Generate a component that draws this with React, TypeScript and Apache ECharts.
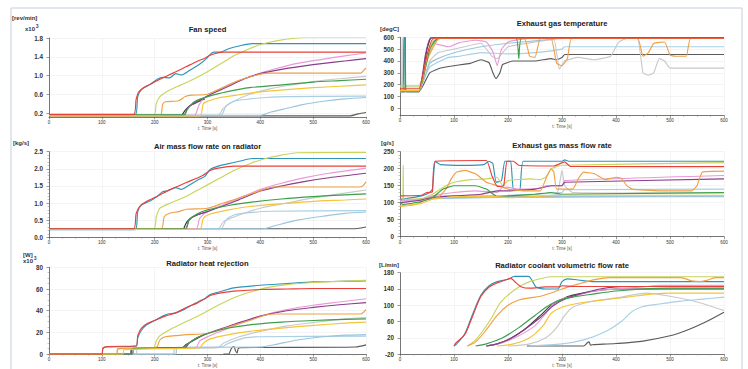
import React, { useEffect, useRef } from "react";
import * as echarts from "echarts";

// ---------- series identities (same test cases in every panel) ----------
const seriesNames = [
  "Case 1", "Case 2", "Case 3", "Case 4", "Case 5", "Case 6", "Case 7",
  "Case 8", "Case 9", "Case 10", "Case 11", "Case 12", "Case 13",
];
const seriesColors = [
  "#2f95b8", "#e8403a", "#c9d45a", "#e89ad8", "#8a3d8a", "#f0a045", "#3a9e4a",
  "#f2c53a", "#c9c9c9", "#a8cfe6", "#9cc5dc", "#5a5a5a", "#3a3a3a",
];
// drawing order weight per series (higher = on top)
const seriesZ = [3, 4, 3, 3, 3, 3, 3, 3, 2, 2, 2, 1, 1];

// ---------- tick labels ----------
const timeTicks = [0, 100, 200, 300, 400, 500, 600];
const fanTicks = [0.2, 0.6, 1.0, 1.4, 1.8];
const tempTicks = [0, 100, 200, 300, 400, 500, 600];
const coolantTicks = [-20, 20, 60, 100, 140, 180];

// ---------- Fan speed [x10^3 rev/min] ----------
const fanSpeed = [
  [[0,0.16],[163,0.16],[168,0.55],[175,0.7],[190,0.8],[205,0.92],[215,0.96],[228,0.95],[240,1.04],[250,1.01],[265,1.1],[285,1.24],[298,1.36],[305,1.45],[312,1.5],[325,1.5],[340,1.57],[360,1.63],[385,1.68],[600,1.68]],
  [[0,0.17],[160,0.17],[165,0.5],[170,0.65],[180,0.75],[195,0.83],[210,0.92],[225,1.0],[240,1.08],[260,1.19],[280,1.3],[295,1.37],[305,1.43],[315,1.47],[330,1.5],[600,1.5]],
  [[0,0.15],[198,0.15],[203,0.4],[210,0.55],[225,0.67],[250,0.8],[275,0.93],[300,1.08],[325,1.25],[350,1.42],[375,1.55],[400,1.66],[430,1.74],[460,1.79],[490,1.81],[600,1.81]],
  [[0,0.15],[275,0.15],[283,0.35],[292,0.5],[310,0.62],[340,0.8],[370,0.93],[400,1.05],[430,1.15],[470,1.26],[520,1.35],[560,1.42],[600,1.48]],
  [[0,0.15],[255,0.15],[262,0.3],[270,0.38],[290,0.5],[310,0.62],[340,0.77],[370,0.93],[400,1.04],[440,1.13],[480,1.2],[520,1.26],[560,1.31],[600,1.36]],
  [[0,0.15],[210,0.15],[215,0.38],[220,0.44],[245,0.46],[258,0.55],[270,0.58],[300,0.6],[330,0.75],[360,0.9],[390,1.0],[415,1.05],[590,1.05],[595,1.1],[600,1.16]],
  [[0,0.16],[255,0.16],[262,0.28],[275,0.44],[300,0.55],[340,0.66],[380,0.74],[440,0.8],[500,0.86],[550,0.89],[600,0.92]],
  [[0,0.14],[285,0.14],[292,0.4],[300,0.45],[320,0.52],[360,0.59],[400,0.65],[450,0.7],[500,0.74],[550,0.77],[600,0.8]],
  [[0,0.15],[320,0.15],[330,0.3],[350,0.45],[380,0.6],[420,0.72],[460,0.8],[500,0.87],[550,0.93],[600,0.98]],
  [[0,0.15],[325,0.15],[335,0.35],[350,0.45],[380,0.5],[410,0.53],[450,0.55],[600,0.56]],
  [[0,0.15],[400,0.15],[420,0.22],[450,0.3],[480,0.38],[520,0.45],[560,0.5],[600,0.53]],
  [[0,0.14],[570,0.14],[585,0.18],[600,0.21]],
  [[252,0.16],[258,0.26],[266,0.35],[280,0.43],[295,0.5]],
];

// ---------- Exhaust gas temperature [degC] ----------
const exhaustTemp = [
  [[0,145],[6,145],[7,600],[9,600],[10,145],[35,145],[48,380],[60,550],[70,590],[600,590]],
  [[0,165],[35,165],[50,450],[62,592],[600,592]],
  [[0,190],[35,190],[50,430],[65,560],[75,590],[600,590]],
  [[0,140],[35,140],[50,400],[60,550],[70,540],[90,520],[110,555],[140,575],[160,560],[172,480],[180,360],[188,500],[200,560],[220,580],[240,590],[600,590]],
  [[0,150],[35,150],[47,450],[57,596],[600,596]],
  [[0,150],[35,150],[50,400],[62,520],[72,590],[230,590],[240,440],[250,430],[260,590],[280,590],[290,380],[300,360],[310,420],[318,590],[440,590],[450,440],[460,470],[470,550],[490,560],[500,450],[510,440],[530,440],[538,590],[600,590]],
  [[0,140],[9,140],[10,600],[11,600],[12,140],[35,140],[55,500],[70,590],[215,590],[220,420],[225,590],[600,590]],
  [[0,150],[35,150],[52,480],[65,590],[600,590]],
  [[0,140],[3,140],[4,600],[5,140],[35,140],[55,400],[70,470],[100,500],[150,550],[170,440],[180,420],[200,520],[250,560],[285,580],[295,330],[305,400],[330,430],[360,410],[390,440],[405,560],[420,590],[440,590],[450,300],[460,280],[470,300],[480,420],[490,400],[500,340],[600,340]],
  [[0,180],[35,180],[55,350],[75,400],[90,430],[110,440],[150,470],[200,460],[250,470],[300,500],[305,520],[600,520]],
  [[0,140],[35,140],[55,380],[70,420],[100,470],[150,520],[200,550],[250,570],[300,590],[600,590]],
  [[0,140],[35,140],[55,300],[75,340],[100,360],[130,380],[150,410],[165,385],[172,300],[178,250],[185,300],[190,370],[210,400],[250,400],[280,420],[290,410],[300,430],[305,455],[600,455]],
  [[0,145],[35,145],[50,500],[58,594],[600,594]],
];

// ---------- Air mass flow rate on radiator [kg/s] ----------
const airMassFlow = [
  [[0,0.22],[163,0.22],[168,0.75],[175,0.95],[190,1.05],[205,1.2],[215,1.33],[225,1.36],[240,1.45],[250,1.4],[265,1.52],[285,1.7],[295,1.78],[305,1.98],[320,2.08],[340,2.15],[360,2.22],[385,2.3],[600,2.3]],
  [[0,0.25],[160,0.25],[165,0.7],[172,0.9],[185,1.05],[205,1.2],[230,1.4],[260,1.6],[290,1.8],[305,1.95],[320,2.02],[350,2.08],[600,2.08]],
  [[0,0.25],[198,0.25],[203,0.6],[210,0.85],[230,1.0],[260,1.2],[290,1.45],[320,1.7],[350,1.95],[380,2.15],[410,2.3],[440,2.4],[470,2.47],[600,2.48]],
  [[0,0.25],[278,0.25],[285,0.55],[300,0.75],[330,0.95],[360,1.15],[400,1.4],[440,1.58],[480,1.73],[530,1.87],[600,2.02]],
  [[0,0.25],[258,0.25],[265,0.5],[280,0.65],[300,0.75],[330,0.92],[360,1.1],[400,1.35],[440,1.5],[480,1.62],[530,1.74],[600,1.87]],
  [[0,0.25],[212,0.25],[218,0.6],[228,0.7],[245,0.75],[260,0.82],[300,0.85],[330,1.0],[370,1.2],[410,1.42],[425,1.47],[590,1.47],[600,1.62]],
  [[0,0.25],[258,0.25],[265,0.5],[280,0.68],[300,0.8],[340,0.93],[380,1.02],[440,1.12],[500,1.19],[560,1.24],[600,1.27]],
  [[0,0.23],[285,0.23],[292,0.55],[305,0.68],[340,0.8],[380,0.9],[440,0.98],[500,1.05],[560,1.09],[600,1.12]],
  [[0,0.25],[320,0.25],[330,0.45],[360,0.65],[400,0.85],[450,1.0],[500,1.15],[550,1.27],[600,1.38]],
  [[0,0.25],[325,0.25],[335,0.5],[350,0.65],[380,0.72],[420,0.76],[600,0.78]],
  [[0,0.25],[405,0.25],[430,0.35],[470,0.5],[520,0.62],[560,0.7],[600,0.74]],
  [[0,0.25],[580,0.25],[600,0.3]],
  [[255,0.25],[261,0.45],[270,0.58],[285,0.68],[298,0.74]],
];

// ---------- Exhaust gas mass flow rate [g/s] ----------
const exhaustMassFlow = [
  [[0,110],[10,112],[40,120],[55,130],[60,140],[65,222],[75,212],[120,210],[155,212],[165,222],[172,215],[178,160],[188,165],[194,222],[205,222],[210,137],[222,137],[228,222],[300,222],[305,226],[312,222],[600,222]],
  [[0,120],[40,122],[50,130],[60,132],[65,222],[160,224],[170,180],[180,148],[192,150],[198,222],[210,222],[220,210],[285,208],[305,220],[315,207],[600,206]],
  [[0,100],[5,100],[6,210],[7,110],[40,112],[60,125],[75,140],[85,150],[100,160],[130,168],[160,170],[180,175],[190,150],[200,165],[240,170],[260,168],[270,175],[280,200],[300,210],[600,218]],
  [[0,105],[40,110],[60,120],[100,130],[140,135],[180,130],[190,145],[200,145],[220,140],[260,142],[270,150],[300,150],[305,165],[600,180]],
  [[0,100],[40,108],[60,115],[100,120],[150,125],[180,135],[200,135],[250,140],[280,150],[300,150],[305,160],[600,170]],
  [[0,90],[30,95],[45,108],[70,115],[85,140],[95,170],[105,190],[120,195],[140,185],[160,160],[180,150],[200,140],[230,135],[260,135],[270,170],[280,200],[285,190],[290,140],[320,140],[330,170],[340,190],[360,185],[380,168],[400,175],[410,172],[420,150],[430,140],[480,135],[540,135],[550,150],[560,190],[600,193]],
  [[0,100],[5,95],[40,103],[60,115],[80,140],[100,150],[140,150],[160,140],[180,118],[200,120],[250,125],[280,130],[300,125],[600,130]],
  [[0,90],[40,98],[60,110],[100,118],[180,118],[200,115],[250,118],[300,122],[600,122]],
  [[0,110],[40,110],[60,118],[100,120],[200,120],[290,125],[300,195],[305,150],[320,130],[600,128]],
  [[0,105],[40,108],[60,115],[200,122],[300,130],[305,138],[600,140]],
  [[0,100],[60,112],[300,118],[600,118]],
  [[0,108],[40,110],[60,116],[600,119]],
  [],
];

// ---------- Radiator heat rejection [x10^3 W] ----------
const heatRejection = [
  [[0,0],[100,0],[102,5],[110,6.5],[165,7.5],[168,15],[175,22],[185,27],[200,31],[215,35],[225,37],[240,38],[255,41],[270,45],[285,49],[295,51],[305,55],[320,57],[350,61],[400,63.5],[450,65],[500,66.5],[550,67],[600,67.5]],
  [[0,0],[100,0],[102,5.5],[110,7],[165,7.5],[168,17],[175,24],[185,28],[200,31],[220,35],[240,38],[260,43],[280,47],[295,51],[305,54],[320,56],[350,58],[400,59.5],[450,60],[500,60.5],[600,60.5]],
  [[0,0],[128,0],[130,4],[140,5],[198,6],[203,12],[210,17],[230,23],[260,30],[290,37],[320,45],[350,52],[380,57],[410,61],[450,64],[500,66],[550,67],[600,68]],
  [[0,0],[158,0],[160,5],[250,6],[278,6],[285,12],[300,16],[330,22],[360,28],[400,35],[450,41],[500,45],[550,48],[600,51]],
  [[0,0],[155,0],[157,5],[250,6],[258,6],[265,10],[280,15],[300,19],[330,24],[360,29],[400,35],[450,40],[500,43],[550,45.5],[600,47.5]],
  [[0,0],[128,0],[130,5],[200,6],[205,7],[210,13],[220,16],[240,17],[260,18],[300,19],[340,25],[380,31],[410,36],[430,37],[590,37],[600,41]],
  [[0,0],[158,0],[160,5],[255,6],[262,9],[280,15],[300,19],[340,24],[380,27],[440,29.5],[500,31],[560,32],[600,32.5]],
  [[0,0],[140,0],[142,4],[285,6],[292,10],[305,14],[340,18],[380,21],[440,24],[500,26.5],[560,28.5],[600,29.5]],
  [[0,0],[165,0],[167,5],[320,6],[330,10],[360,16],[400,21],[450,26],[500,29],[550,32],[600,34]],
  [[0,0],[235,0],[238,6],[325,6.5],[340,10],[370,15],[400,16],[600,16.5]],
  [[0,0],[240,0],[242,6.2],[400,6.5],[430,9],[470,13],[520,16],[560,17.5],[600,18]],
  [[330,0],[340,0],[345,5],[350,7],[353,3],[356,1],[358,5],[362,6],[580,6.5],[600,8.5]],
  [[155,0],[157,5],[252,6],[260,9],[275,13],[290,17],[300,19]],
];

// ---------- Radiator coolant volumetric flow rate [L/min] ----------
const coolantFlow = [
  [[100,0],[105,5],[120,30],[135,80],[150,125],[165,148],[180,158],[200,164],[212,171],[238,171],[245,160],[252,145],[270,140],[292,140],[300,158],[310,165],[330,162],[360,158],[600,158]],
  [[100,0],[104,8],[120,28],[135,75],[150,122],[165,145],[180,155],[195,162],[205,166],[215,155],[225,145],[240,142],[270,145],[295,145],[300,148],[320,146],[600,146]],
  [[125,0],[140,15],[155,40],[170,70],[185,105],[200,125],[220,145],[240,158],[260,165],[280,170],[600,170]],
  [[160,0],[190,8],[220,25],[250,50],[270,80],[285,105],[300,115],[330,125],[360,135],[400,140],[450,145],[480,149],[600,149]],
  [[160,0],[180,5],[200,15],[230,40],[260,70],[285,100],[310,118],[340,130],[370,140],[400,145],[450,146],[600,146]],
  [[125,0],[140,10],[160,40],[180,75],[200,100],[220,113],[240,118],[260,122],[280,130],[300,140],[330,152],[360,163],[390,168],[520,168],[540,160],[555,158],[570,162],[585,168],[600,168]],
  [[140,0],[160,5],[190,20],[220,45],[250,75],[270,95],[290,110],[320,120],[360,128],[400,135],[450,140],[500,142],[600,142]],
  [[180,0],[210,5],[240,20],[265,50],[280,80],[300,95],[330,105],[370,112],[420,120],[470,128],[500,130],[600,130]],
  [[200,0],[240,5],[270,20],[290,45],[305,75],[320,95],[350,108],[400,118],[458,130],[500,122],[550,108],[600,87]],
  [[240,0],[300,5],[340,15],[380,35],[410,60],[430,85],[450,97],[480,103],[520,110],[560,115],[600,120]],
  [],
  [[235,0],[340,0],[347,8],[350,10],[353,2],[356,3],[400,6],[450,12],[500,25],[530,38],[560,55],[600,83]],
  [[160,0],[180,5],[200,15],[230,40],[260,75],[280,100],[300,115],[320,125],[360,135],[400,140],[600,140]],
];

const FONT = "'Liberation Sans', Arial, sans-serif";

type Panel = {
  title: string;
  unit: string;
  exp?: boolean;
  data: number[][][];
  grid: { left: number; top: number; width: number; height: number };
  titleY: number;
  unitPos: [number, number];
  expPos?: [number, number];
  yMin: number;
  yMax: number;
  yInterval?: number;
  yCustom?: number[];
  yMinorSplit?: number;
  decimals: number;
  smooth: number;
};

const panels: Panel[] = [
  { title: "Fan speed", unit: "[rev/min]", exp: true, data: fanSpeed,
    grid: { left: 49, top: 38, width: 317, height: 78.75 }, titleY: 29,
    unitPos: [12, 18], expPos: [25, 29], yMin: 0.12, yMax: 1.8, yCustom: fanTicks, decimals: 1, smooth: 0.25 },
  { title: "Exhaust gas temperature", unit: "[degC]", data: exhaustTemp,
    grid: { left: 400, top: 37.3, width: 324, height: 78.1 }, titleY: 23,
    unitPos: [380, 29], yMin: -60, yMax: 600, yCustom: tempTicks, decimals: 0, smooth: 0.12 },
  { title: "Air mass flow rate on radiator", unit: "[kg/s]", data: airMassFlow,
    grid: { left: 49, top: 151.7, width: 317, height: 85.6 }, titleY: 146,
    unitPos: [13, 143], yMin: 0, yMax: 2.5, yInterval: 0.5, yMinorSplit: 5, decimals: 1, smooth: 0.25 },
  { title: "Exhaust gas mass flow rate", unit: "[g/s]", data: exhaustMassFlow,
    grid: { left: 400, top: 151.7, width: 324, height: 85 }, titleY: 145,
    unitPos: [381, 143], yMin: 0, yMax: 250, yInterval: 50, yMinorSplit: 5, decimals: 0, smooth: 0.12 },
  { title: "Radiator heat rejection", unit: "[W]", exp: true, data: heatRejection,
    grid: { left: 49, top: 267.3, width: 317, height: 87.7 }, titleY: 263,
    unitPos: [23, 255], expPos: [23, 261], yMin: 0, yMax: 80, yInterval: 20, yMinorSplit: 4, decimals: 0, smooth: 0.25 },
  { title: "Radiator coolant volumetric flow rate", unit: "[L/min]", data: coolantFlow,
    grid: { left: 400, top: 272.7, width: 324, height: 82.3 }, titleY: 265,
    unitPos: [379, 265], yMin: -20, yMax: 180, yCustom: coolantTicks, decimals: 0, smooth: 0.3 },
];

function buildOption() {
  const axisColor = "#555";
  const grid = panels.map((p) => ({ ...p.grid, containLabel: false }));
  const xAxis = panels.map((p, i) => ({
    gridIndex: i, type: "value", min: 0, max: 600, interval: 100,
    name: "t: Time [s]", nameLocation: "middle", nameGap: 8,
    nameTextStyle: { fontSize: 4.5, color: "#555", fontFamily: FONT },
    axisLine: { show: true, onZero: false, lineStyle: { color: axisColor, width: 0.8 } },
    axisTick: { show: true, length: 2.5, lineStyle: { color: axisColor, width: 0.6 } },
    minorTick: { show: true, splitNumber: 4, length: 1.5, lineStyle: { color: "#888", width: 0.5 } },
    axisLabel: { fontSize: 4.5, color: "#333", margin: 3, fontFamily: FONT, customValues: timeTicks },
    splitLine: { show: true, lineStyle: { color: "#ececec", width: 0.6 } },
  }));
  const yAxis = panels.map((p, i) => {
    const fmt = (v: number) => v.toFixed(p.decimals);
    const base: any = {
      gridIndex: i, type: "value", min: p.yMin, max: p.yMax,
      axisLine: { show: true, onZero: false, lineStyle: { color: axisColor, width: 0.8 } },
      axisLabel: { fontSize: 6.3, fontWeight: "bold", color: "#333", margin: 6, fontFamily: FONT, formatter: fmt },
      axisTick: { show: true, length: 2.5, lineStyle: { color: axisColor, width: 0.6 } },
      splitLine: { show: true, lineStyle: { color: "#ececec", width: 0.6 } },
    };
    if (p.yCustom) {
      base.axisLabel.customValues = p.yCustom;
      base.axisTick.customValues = p.yCustom;
    } else {
      base.interval = p.yInterval;
      base.minorTick = { show: true, splitNumber: p.yMinorSplit, length: 1.5, lineStyle: { color: "#888", width: 0.5 } };
    }
    return base;
  });
  const series: any[] = [];
  panels.forEach((p, i) => {
    p.data.forEach((d, k) => {
      if (!d.length) return;
      series.push({
        type: "line", name: seriesNames[k], xAxisIndex: i, yAxisIndex: i,
        data: d, showSymbol: false, symbol: "none", silent: true,
        smooth: p.smooth,
        lineStyle: { color: seriesColors[k], width: 1.15 },
        itemStyle: { color: seriesColors[k] },
        z: seriesZ[k],
      });
    });
  });
  const graphic: any[] = [
    { type: "rect", shape: { x: 11, y: 8, width: 731, height: 420 }, silent: true,
      style: { fill: "none", stroke: "#c5cedd", lineWidth: 1 } },
  ];
  panels.forEach((p) => {
    graphic.push({ type: "text", x: p.grid.left + p.grid.width / 2, y: p.titleY, silent: true,
      style: { text: p.title, font: `bold 7.6px ${FONT}`, fill: "#222", align: "center", verticalAlign: "middle" } });
    graphic.push({ type: "text", x: p.unitPos[0], y: p.unitPos[1], silent: true,
      style: { text: p.unit, font: `bold 6px ${FONT}`, fill: "#333", align: "left", verticalAlign: "middle" } });
    if (p.exp && p.expPos) {
      graphic.push({ type: "text", x: p.expPos[0], y: p.expPos[1], silent: true,
        style: { text: "x10", font: `bold 6px ${FONT}`, fill: "#333", align: "left", verticalAlign: "middle" } });
      graphic.push({ type: "text", x: p.expPos[0] + 11, y: p.expPos[1] - 3, silent: true,
        style: { text: "3", font: `bold 4.5px ${FONT}`, fill: "#333", align: "left", verticalAlign: "middle" } });
    }
  });
  return {
    animation: false,
    backgroundColor: "#ffffff",
    textStyle: { fontFamily: FONT },
    grid, xAxis, yAxis, series, graphic,
  };
}

export default function App() {
  const ref = useRef<HTMLDivElement>(null);
  useEffect(() => {
    if (!ref.current) return;
    const chart = echarts.init(ref.current, null, { renderer: "svg" });
    chart.setOption(buildOption() as any);
    return () => chart.dispose();
  }, []);
  return (
    <div
      ref={ref}
      style={{ position: "fixed", left: 0, top: 0, width: 748, height: 369, background: "#fff" }}
    />
  );
}
